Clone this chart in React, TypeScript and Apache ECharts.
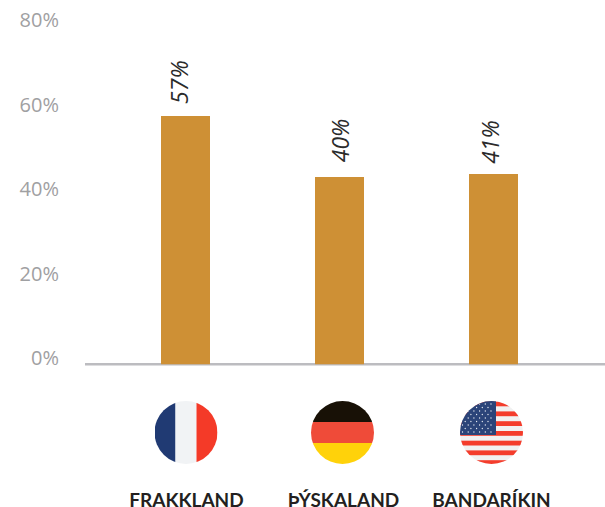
import React, { useEffect, useRef } from "react";
import * as echarts from "echarts";

const categories = ["FRAKKLAND", "ÞÝSKALAND", "BANDARÍKIN"];
const barValues = [58.7, 44.3, 45.0];
const barLabels = ["57%", "40%", "41%"];
const yTicks = { min: 0, max: 80, interval: 20 };
const labelShift: [number, number][] = [[24, 5], [26.5, 12], [22, 7.5]];
const categoryShift = [1, 4, -2];

const FONT = "'Open Sans', sans-serif";

const svgUri = (body: string) =>
  "data:image/svg+xml;charset=utf-8," +
  encodeURIComponent(
    `<svg xmlns="http://www.w3.org/2000/svg" width="252" height="252" viewBox="0 0 63 63"><defs><clipPath id="c"><circle cx="31.5" cy="31.5" r="31.5"/></clipPath></defs><g clip-path="url(#c)">${body}</g></svg>`
  );

const france = svgUri(
  `<rect width="21" height="63" fill="#203a73"/><rect x="21" width="21" height="63" fill="#f1f3f5"/><rect x="42" width="21" height="63" fill="#f43a28"/>`
);
const germany = svgUri(
  `<rect width="63" height="21" fill="#181106"/><rect y="21" width="63" height="21" fill="#ef4b39"/><rect y="42" width="63" height="21" fill="#ffd20a"/>`
);
const usStripes = [0.5, 10.4, 20.2, 30, 39.7, 49.4, 59.2];
const usStars: [number, number][] = [];
for (let r = 0; r < 9; r++) {
  const count = r % 2 === 0 ? 6 : 5;
  for (let c = 0; c < count; c++) {
    usStars.push([(r % 2 === 0 ? 2.5 : 5.2) + c * 5.7, 3 + r * 3.5]);
  }
}
const usa = svgUri(
  `<rect width="63" height="63" fill="#f1f1f1"/>` +
    usStripes.map((y) => `<rect y="${y}" width="63" height="4.8" fill="#f43d2c"/>`).join("") +
    `<rect width="36" height="34" fill="#2b4479"/>` +
    usStars.map(([x, y]) => `<circle cx="${x}" cy="${y}" r="0.65" fill="#eef1f6"/>`).join("")
);

const flags = [
  { src: france, x: 154.5, y: 401 },
  { src: germany, x: 311, y: 401 },
  { src: usa, x: 460, y: 401 },
];

export default function App() {
  const ref = useRef<HTMLDivElement>(null);
  useEffect(() => {
    if (!ref.current) return;
    const chart = echarts.init(ref.current, undefined, { renderer: "svg" });
    chart.setOption({
      animation: false,
      backgroundColor: "#ffffff",
      grid: { left: 108.5, right: 34.5, top: 26, bottom: 142.7, containLabel: false, outerBoundsMode: "none" },
      xAxis: {
        type: "category",
        data: categories.map((value, i) => ({
          value,
          textStyle: {
            padding: categoryShift[i] >= 0 ? [0, 0, 0, categoryShift[i] * 2] : [0, -categoryShift[i] * 2, 0, 0],
          },
        })),
        axisLine: { show: false },
        axisTick: { show: false },
        axisLabel: {
          interval: 0,
          margin: 128,
          color: "#231f20",
          fontFamily: "Lato, sans-serif",
          fontWeight: "bold",
          fontSize: 19,
          lineHeight: 14,
        },
      },
      yAxis: {
        type: "value",
        ...yTicks,
        axisLine: { show: false },
        axisTick: { show: false },
        splitLine: { show: false },
        axisLabel: {
          margin: 49.5,
          color: "#9fa0a2",
          fontFamily: FONT,
          fontSize: 20,
          formatter: "{value}%",
          verticalAlign: "bottom",
          lineHeight: 13,
        },
      },
      series: [
        {
          type: "bar",
          barWidth: 49,
          z: 3,
          itemStyle: { color: "#ce9035" },
          data: barValues.map((value, i) => ({
            value,
            label: {
              show: true,
              position: "top",
              distance: 10,
              rotate: 90,
              offset: labelShift[i],
              formatter: barLabels[i],
              color: "#2b2b2b",
              fontFamily: FONT,
              fontStyle: "italic",
              fontSize: 23,
            },
          })),
        },
      ],
      graphic: [
        {
          type: "line",
          z: 1,
          shape: { x1: 85, y1: 364.3, x2: 605, y2: 364.3 },
          style: { stroke: "#bcbcc0", lineWidth: 2.6 },
        },
        ...flags.map((f) => ({
          type: "image",
          x: f.x,
          y: f.y,
          style: { image: f.src, width: 63, height: 63 },
        })),
      ],
    });
    return () => chart.dispose();
  }, []);
  return <div ref={ref} style={{ position: "fixed", left: 0, top: 0, width: 605, height: 507 }} />;
}
